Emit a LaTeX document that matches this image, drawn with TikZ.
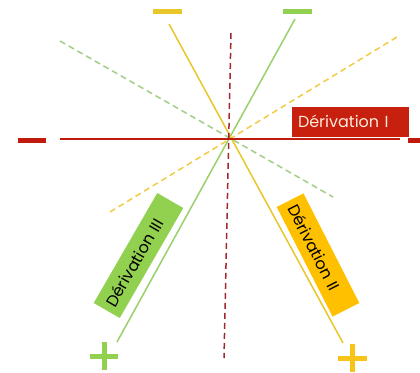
\documentclass[tikz,border=0pt]{standalone}
\usepackage{fontspec}
\setmainfont{Poppins}
\definecolor{rred}{HTML}{C01A0C}
\definecolor{rbox}{HTML}{C8200E}
\definecolor{ddred}{HTML}{A3282E}
\definecolor{yel}{HTML}{E9C62A}
\definecolor{ybox}{HTML}{FFC000}
\definecolor{yplus}{HTML}{F7C51A}
\definecolor{grn}{HTML}{92D050}
\definecolor{gline}{HTML}{9ACF6A}
\definecolor{gdash}{HTML}{A3CD86}
\definecolor{ydash}{HTML}{F2CB45}
\definecolor{cream}{HTML}{FCEBDA}
\tikzset{
  signbar/.style={line width=5pt},
  leadline/.style={line width=1.5pt},
  dashline/.style={line width=1.5pt, dash pattern=on 6pt off 4pt},
  labelbox/.style={inner xsep=6pt, inner ysep=0pt, minimum height=30pt, align=left,
    font=\fontsize{16}{16}\selectfont}
}
\begin{document}
\begin{tikzpicture}[x=1pt,y=-1pt]
\useasboundingbox (0,0) rectangle (420,372);
\clip (0,0) rectangle (420,372);
\coordinate (c) at (230,139);
% dashed lines
\coordinate (gd1) at (60,41);  \coordinate (gd2) at (333,197);
\coordinate (yd1) at (110,212); \coordinate (yd2) at (397,37);
\coordinate (rd1) at (231,33); \coordinate (rd2) at (224,358);
\draw[dashline, gdash] (gd1) -- (gd2);
\draw[dashline, ydash] (yd1) -- (yd2);
% solid lines
\coordinate (g1) at (117,342); \coordinate (g2) at (295,19);
\coordinate (y1) at (169,24);  \coordinate (y2) at (343,343);
\coordinate (r1) at (60,139);  \coordinate (r2) at (400,139);
\draw[leadline, gline] (g1) -- (g2);
\draw[leadline, yel] (y1) -- (y2);
\draw[line width=1.6pt, rred] (r1) -- (r2);
\draw[dashline, ddred] (rd1) -- (rd2);
% signs
\draw[signbar, rred] (18,140) -- (46,140);
\draw[signbar, yel] (153,11) -- (182,11);
\draw[signbar, grn] (283,11) -- (312,11);
\draw[signbar, grn] (90,356) -- (118,356) (104,342) -- (104,370);
\draw[signbar, yplus] (338,358) -- (367,358) (352,344) -- (352,372);
\draw[signbar, rred] (408,140) -- (436,140) (422,126) -- (422,154);
% label boxes
\node[labelbox, fill=rbox, text=cream, text width=105pt] (dI) at (350.5,121.5) {Dérivation I};
\node[labelbox, fill=grn, text=black, text width=115pt, rotate=60] (dIII) at (138.5,255.5) {Dérivation III};
\node[labelbox, fill=ybox, text=black, text width=111pt, rotate=-63] (dII) at (318,255) {Dérivation II};
\end{tikzpicture}
\end{document}
